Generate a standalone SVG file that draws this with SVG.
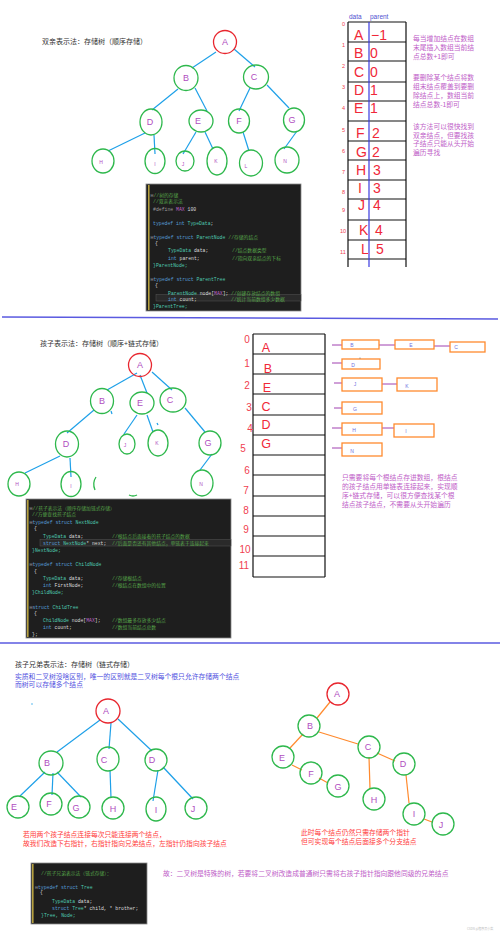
<svg xmlns="http://www.w3.org/2000/svg" width="500" height="934" viewBox="0 0 500 934">
<style>
.bg{fill:#ffffff}
.cn{fill:none;stroke:#2eb84c;stroke-width:1.3}
.cr{fill:none;stroke:#e8262e;stroke-width:1.3}
.lb{font-family:"Liberation Sans","Noto Sans",sans-serif;fill:#b04ec0;text-anchor:middle}
.big{font-size:9px}
.sm{font-size:5px}
.eb{stroke:#1ea0e8;stroke-width:1.2;fill:none}
.eo{stroke:#ff8a2e;stroke-width:1.2;fill:none}
.ep{stroke:#a040b0;stroke-width:1;fill:none}
.zh{font-family:"Noto Sans CJK SC","Noto Sans",sans-serif}
.title{font-size:7px;fill:#333333}
.note{font-size:6.8px;fill:#c060c8}
.red{font-size:6.8px;fill:#ff3c3c}
.blu{font-size:6.8px;fill:#5050e0}
.tl{stroke:#111111;stroke-width:1.2;fill:none}
.ridx{font-family:"Liberation Sans",sans-serif;fill:#f04050}
.rl{font-family:"Liberation Sans",sans-serif;fill:#f02838}
.box{fill:#ffffff;stroke:#ff8a2e;stroke-width:1.3}
.bl{font-family:"Liberation Sans",sans-serif;font-size:5px;fill:#7070e0;text-anchor:middle}
.code{font-family:"Liberation Mono","Noto Sans CJK SC",monospace;font-size:4.8px;fill:#dcdcdc}
.cb{fill:#1e1e1e;stroke:#8a8a8a;stroke-width:0.8}
.stripe{fill:#b5a040}
.c{fill:#57a64a}
.k{fill:#569cd6}
.t{fill:#4ec9b0}
.g{fill:#9b9b9b}
.div{stroke:#5a5ae0;stroke-width:1.3}
</style>
<rect class="bg" x="0" y="0" width="500" height="934"/>

<!-- dividers -->
<line class="div" x1="2" y1="317" x2="498" y2="319"/>
<line class="div" x1="0" y1="643" x2="500" y2="643"/>

<!-- ===== Section 1 ===== -->
<text class="zh title" x="42" y="43.5">双亲表示法：存储树（顺序存储）</text>

<g id="s1-edges">
<line class="eb" x1="216" y1="52" x2="192" y2="68"/>
<line class="eb" x1="234" y1="49" x2="255" y2="67"/>
<line class="eb" x1="178" y1="89" x2="152" y2="110"/>
<line class="eb" x1="195" y1="88" x2="207" y2="111"/>
<line class="eb" x1="250" y1="88" x2="239" y2="111"/>
<line class="eb" x1="267" y1="85" x2="289" y2="108"/>
<line class="eb" x1="145" y1="133" x2="108" y2="151"/>
<line class="eb" x1="154" y1="135" x2="155" y2="154"/>
<line class="eb" x1="196" y1="132" x2="183" y2="154"/>
<line class="eb" x1="205" y1="132" x2="213" y2="149"/>
<line class="eb" x1="243" y1="132" x2="249" y2="151"/>
<line class="eb" x1="297" y1="131" x2="284" y2="149"/>
</g>
<g id="s1-A"><ellipse class="cr" cx="225" cy="42" rx="11.5" ry="11.5"/><text class="lb big" x="225" y="45">A</text></g>
<g id="s1-B"><ellipse class="cn" cx="186" cy="78" rx="12" ry="12.5"/><text class="lb big" x="186" y="81">B</text></g>
<g id="s1-C"><ellipse class="cn" cx="256" cy="77" rx="12.5" ry="12"/><text class="lb big" x="254" y="80">C</text></g>
<g id="s1-D"><ellipse class="cn" cx="151" cy="122" rx="11" ry="13"/><text class="lb big" x="150" y="125">D</text></g>
<g id="s1-E"><ellipse class="cn" cx="201" cy="121" rx="12" ry="11"/><text class="lb big" x="198" y="124">E</text></g>
<g id="s1-F"><ellipse class="cn" cx="239" cy="121" rx="10.5" ry="12"/><text class="lb big" x="239" y="124">F</text></g>
<g id="s1-G"><ellipse class="cn" cx="294" cy="120" rx="10.5" ry="12"/><text class="lb big" x="292" y="123">G</text></g>
<g id="s1-H"><ellipse class="cn" cx="103" cy="161" rx="11" ry="12"/><text class="lb sm" x="101" y="164">H</text></g>
<g id="s1-I"><ellipse class="cn" cx="155" cy="161" rx="10" ry="12.5"/><text class="lb sm" x="155" y="166">I</text></g>
<g id="s1-J"><ellipse class="cn" cx="185" cy="161" rx="9" ry="10"/><text class="lb sm" x="183" y="166">J</text></g>
<g id="s1-K"><ellipse class="cn" cx="217" cy="161" rx="10" ry="14"/><text class="lb sm" x="216" y="163">K</text></g>
<g id="s1-L"><ellipse class="cn" cx="251" cy="163" rx="11.5" ry="13"/><text class="lb sm" x="246" y="168">L</text></g>
<g id="s1-N"><ellipse class="cn" cx="287" cy="160" rx="12" ry="13"/><text class="lb sm" x="285" y="163">N</text></g>

<!-- code block 1 -->
<g id="code1">
<rect class="cb" x="146" y="184" width="155" height="127"/>
<rect class="stripe" x="148" y="185" width="1.6" height="125"/>
<rect x="156" y="294.5" width="145" height="6.5" fill="#2a2a2a" stroke="#555555" stroke-width="0.5"/>
<text class="code" x="150.5" y="196.5"><tspan class="g">⊟</tspan><tspan class="c">//树的存储</tspan></text>
<text class="code c" x="153" y="202.5">//双亲表示法</text>
<text class="code" x="153" y="210.5"><tspan class="g">#define </tspan><tspan fill="#bd63c5">MAX</tspan> 100</text>
<text class="code" x="153" y="224.5"><tspan class="k">typedef int </tspan><tspan class="t">TypeData</tspan>;</text>
<text class="code" x="150.5" y="238.5"><tspan class="g">⊟</tspan><tspan class="k">typedef struct </tspan><tspan class="t">ParentNode </tspan><tspan class="c">//存储的结点</tspan></text>
<text class="code" x="155" y="244.5">{</text>
<text class="code" x="168" y="251.5"><tspan class="t">TypeData</tspan> data;</text>
<text class="code c" x="232" y="251.5">//结点数据类型</text>
<text class="code" x="168" y="259.5"><tspan class="k">int</tspan> parent;</text>
<text class="code c" x="232" y="259.5">//指向双亲结点的下标</text>
<text class="code t" x="153" y="266.5">}ParentNode;</text>
<text class="code" x="150.5" y="280.5"><tspan class="g">⊟</tspan><tspan class="k">typedef struct </tspan><tspan class="t">ParentTree</tspan></text>
<text class="code" x="155" y="286.5">{</text>
<text class="code" x="168" y="294.5"><tspan class="t">ParentNode</tspan> node[<tspan fill="#bd63c5">MAX</tspan>];</text>
<text class="code c" x="231" y="294.5">//创建存放结点的数组</text>
<text class="code" x="168" y="300.5"><tspan class="k">int</tspan> count;</text>
<text class="code c" x="231" y="300.5">//统计当前数组多少数据</text>
<text class="code t" x="153" y="307.5">}ParentTree;</text>
</g>

<!-- array 1 -->
<g id="array1">
<text x="349" y="19" font-family="Liberation Sans,sans-serif" font-size="6.5" fill="#5050d0">data</text>
<text x="370" y="19" font-family="Liberation Sans,sans-serif" font-size="6.5" fill="#5050d0">parent</text>
<path class="tl" d="M348 22H406M348 42H406M348 61H406M348 82H406M348 101H406M348 121H406M348 141H406M348 160H406M348 180H406M348 199H406M348 220H406M348 240H406M348 259H406M348 22V267M406 22V267"/>
<line x1="369" y1="22" x2="369" y2="267" stroke="#3a3ae0" stroke-width="1.2"/>
<g class="ridx" font-size="5.5">
<text x="342" y="26">0</text><text x="342" y="47">1</text><text x="342" y="68">2</text><text x="342" y="89">3</text>
<text x="342" y="110">4</text><text x="342" y="132">5</text><text x="342" y="153">6</text><text x="342" y="174">7</text>
<text x="342" y="194">8</text><text x="342" y="212">9</text><text x="340" y="233">10</text><text x="340" y="254">11</text>
</g>
<g class="rl" font-size="14">
<text x="354" y="40">A</text><text x="371" y="40">−1</text>
<text x="354" y="58">B</text><text x="370" y="58">0</text>
<text x="354" y="77">C</text><text x="370" y="77">0</text>
<text x="354" y="95">D</text><text x="370" y="95">1</text>
<text x="354" y="113">E</text><text x="370" y="113">1</text>
<text x="356" y="138">F</text><text x="372" y="138">2</text>
<text x="356" y="157">G</text><text x="372" y="157">2</text>
<text x="356" y="175">H</text><text x="373" y="175">3</text>
<text x="358" y="193">I</text><text x="373" y="193">3</text>
<text x="358" y="210">J</text><text x="373" y="210">4</text>
<text x="359" y="235">K</text><text x="375" y="235">4</text>
<text x="361" y="254">L</text><text x="376" y="254">5</text>
</g>
<g class="zh note">
<text x="413" y="40.5">每当增加结点在数组</text>
<text x="413" y="50">末尾插入数组当前结</text>
<text x="413" y="59">点总数+1即可</text>
<text x="413" y="79.5">要删除某个结点将数</text>
<text x="413" y="88.5">组末结点覆盖到要删</text>
<text x="413" y="97.5">除结点上，数组当前</text>
<text x="413" y="106.5">结点总数-1即可</text>
<text x="413" y="128.5">该方法可以很快找到</text>
<text x="413" y="137.5">双亲结点，但要找孩</text>
<text x="413" y="146">子结点只能从头开始</text>
<text x="413" y="154.5">遍历寻找</text>
</g>
</g>

<!-- ===== Section 2 ===== -->
<text class="zh title" x="40" y="345.5">孩子表示法：存储树（顺序+链式存储）</text>

<g id="s2-edges">
<line class="eb" x1="137" y1="373" x2="107" y2="390"/>
<line class="eb" x1="140" y1="375" x2="147" y2="393"/>
<line class="eb" x1="152" y1="372" x2="172" y2="390"/>
<line class="eb" x1="94" y1="410" x2="67" y2="433"/>
<line class="eb" x1="111" y1="411" x2="112" y2="414"/>
<line class="eb" x1="137" y1="415" x2="124" y2="434"/>
<line class="eb" x1="147" y1="415" x2="153" y2="432"/>
<line class="eb" x1="157" y1="423" x2="158" y2="425"/>
<line class="eb" x1="185" y1="408" x2="205" y2="432"/>
<line class="eb" x1="60" y1="456" x2="25" y2="473"/>
<line class="eb" x1="70" y1="458" x2="71" y2="477"/>
<line class="eb" x1="212" y1="454" x2="200" y2="470"/>
</g>
<g id="s2-A"><ellipse class="cr" cx="140" cy="365" rx="11.5" ry="11.5"/><text class="lb big" x="140" y="368">A</text></g>
<g id="s2-B"><ellipse class="cn" cx="102" cy="401" rx="11.5" ry="12.5"/><text class="lb big" x="102" y="404">B</text></g>
<g id="s2-E"><ellipse class="cn" cx="142" cy="403" rx="12" ry="11"/><text class="lb big" x="140" y="406">E</text></g>
<g id="s2-C"><ellipse class="cn" cx="173" cy="400" rx="13" ry="12"/><text class="lb big" x="170" y="403">C</text></g>
<g id="s2-D"><ellipse class="cn" cx="67" cy="444" rx="11.5" ry="13"/><text class="lb big" x="66" y="447">D</text></g>
<g id="s2-J"><ellipse class="cn" cx="127" cy="444" rx="8" ry="10"/><text class="lb sm" x="125" y="447">J</text></g>
<g id="s2-K"><ellipse class="cn" cx="158" cy="443" rx="10" ry="13"/><text class="lb sm" x="157" y="445">K</text></g>
<g id="s2-G"><ellipse class="cn" cx="210" cy="443" rx="11" ry="12"/><text class="lb big" x="208" y="446">G</text></g>
<g id="s2-H"><ellipse class="cn" cx="19" cy="484" rx="11" ry="12"/><text class="lb sm" x="17" y="486">H</text></g>
<g id="s2-I"><ellipse class="cn" cx="71" cy="484" rx="10" ry="12.5"/><text class="lb sm" x="71" y="488">I</text></g>
<g id="s2-N"><ellipse class="cn" cx="202" cy="483" rx="11" ry="13"/><text class="lb sm" x="201" y="486">N</text></g>
<path class="cn" d="M96 477Q92 483 95 490"/>
<path class="cn" d="M129 495Q133 497 137 495"/>

<!-- array 2 -->
<g id="array2">
<path class="tl" d="M253 334H325M253 354H325M253 374H325M253 394H325M253 415H325M253 435H325M253 455H325M253 475H325M253 496H325M253 516H325M253 536H325M253 556H325M253 577H325M253 334V577M325 334V577"/>
<g class="ridx" font-size="10" text-anchor="middle">
<text x="247" y="343">0</text><text x="247" y="367">1</text><text x="247" y="389">2</text><text x="249" y="411">3</text>
<text x="250" y="432">4</text><text x="243" y="452">5</text><text x="247" y="474">6</text><text x="246" y="494">7</text>
<text x="246" y="514">8</text><text x="246" y="533">9</text><text x="245" y="553">10</text><text x="244" y="569">11</text>
</g>
<g class="rl" font-size="12.5" text-anchor="middle">
<text x="266" y="352">A</text><text x="268" y="373">B</text><text x="267" y="392">E</text>
<text x="266" y="411">C</text><text x="266" y="429">D</text><text x="266" y="448">G</text>
</g>
</g>

<g id="lists">
<path class="ep" d="M332 345H342M379 345H395M434 346H450M332 363H342M334 383H342M382 384H397M334 408H342M332 428H342M382 428H394M332 448H342"/>
<g id="l-B"><rect class="box" x="342" y="340" width="37" height="9"/><text class="bl" x="352" y="347">B</text></g>
<g id="l-E"><rect class="box" x="395" y="340" width="39" height="9"/><text class="bl" x="411" y="347">E</text></g>
<g id="l-C"><rect class="box" x="450" y="342" width="35" height="10"/><text class="bl" x="456" y="349">C</text></g>
<g id="l-D"><rect class="box" x="342" y="359" width="38" height="10"/><text class="bl" x="353" y="367">D</text></g>
<circle cx="360" cy="358" r="0.5" fill="#555555"/>
<g id="l-J"><rect class="box" x="342" y="378" width="40" height="13"/><text class="bl" x="355" y="386">J</text></g>
<g id="l-K"><rect class="box" x="397" y="378" width="40" height="13"/><text class="bl" x="407" y="388">K</text></g>
<g id="l-G"><rect class="box" x="342" y="402" width="40" height="12"/><text class="bl" x="355" y="411">G</text></g>
<g id="l-H"><rect class="box" x="342" y="423" width="40" height="12"/><text class="bl" x="354" y="432">H</text></g>
<g id="l-I"><rect class="box" x="394" y="424" width="40" height="13"/><text class="bl" x="406" y="433">I</text></g>
<g id="l-N"><rect class="box" x="342" y="443" width="40" height="13"/><text class="bl" x="352" y="453">N</text></g>
</g>
<g class="zh note">
<text x="342" y="480">只需要将每个根结点存进数组，根结点</text>
<text x="342" y="489">的孩子结点用单链表连接起来，实现顺</text>
<text x="342" y="498">序+链式存储，可以很方便查找某个根</text>
<text x="342" y="507">结点孩子结点，不需要从头开始遍历</text>
</g>

<!-- code block 2 -->
<g id="code2">
<rect class="cb" x="26" y="499" width="205" height="139"/>
<rect class="stripe" x="27" y="500" width="1.6" height="137"/>
<rect x="40" y="539.5" width="191" height="6.5" fill="#2a2a2a" stroke="#555555" stroke-width="0.5"/>
<text class="code" x="29.5" y="509.5"><tspan class="g">⊟</tspan><tspan class="c">//孩子表示法（顺序存储加链式存储）</tspan></text>
<text class="code c" x="32" y="515.5">//方便查找孩子结点</text>
<text class="code" x="29.5" y="523.5"><tspan class="g">⊟</tspan><tspan class="k">typedef struct </tspan><tspan class="t">NextNode</tspan></text>
<text class="code" x="34" y="529.5">{</text>
<text class="code" x="43" y="537.5"><tspan class="t">TypeData</tspan> data;</text>
<text class="code c" x="112" y="537.5">//根结点后面接着的孩子结点的数据</text>
<text class="code" x="43" y="544.5"><tspan class="k">struct </tspan><tspan class="t">NextNode</tspan>* next;</text>
<text class="code c" x="112" y="544.5">//后面是否还有其他结点，单链表于连接起来</text>
<text class="code t" x="32" y="551.5">}NextNode;</text>
<text class="code" x="29.5" y="565.5"><tspan class="g">⊟</tspan><tspan class="k">typedef struct </tspan><tspan class="t">ChildNode</tspan></text>
<text class="code" x="34" y="572.5">{</text>
<text class="code" x="43" y="579.5"><tspan class="t">TypeData</tspan> data;</text>
<text class="code c" x="112" y="579.5">//存储根结点</text>
<text class="code" x="43" y="586.5"><tspan class="k">int</tspan> FirstNode;</text>
<text class="code c" x="112" y="586.5">//根结点在数组中的位置</text>
<text class="code t" x="32" y="593.5">}ChildNode;</text>
<text class="code" x="29.5" y="608.5"><tspan class="g">⊟</tspan><tspan class="k">struct </tspan><tspan class="t">ChildTree</tspan></text>
<text class="code" x="34" y="614.5">{</text>
<text class="code" x="43" y="621.5"><tspan class="t">ChildNode</tspan> node[<tspan fill="#bd63c5">MAX</tspan>];</text>
<text class="code c" x="112" y="621.5">//数组最多存放多少结点</text>
<text class="code" x="43" y="628.5"><tspan class="k">int</tspan> count;</text>
<text class="code c" x="112" y="628.5">//数组当前结点总数</text>
<text class="code" x="32" y="635.5">};</text>
</g>

<!-- ===== Section 3 ===== -->
<text class="zh title" x="15" y="666.5">孩子兄弟表示法：存储树（链式存储）</text>
<text class="zh blu" x="15" y="678.5">实质和二叉树没啥区别，唯一的区别就是二叉树每个根只允许存储两个结点</text>
<text class="zh blu" x="15" y="687">而树可以存储多个结点</text>
<circle cx="32" cy="704" r="0.7" fill="#1ea0e8"/>

<g id="s3-edges">
<line class="eb" x1="100" y1="720" x2="57" y2="752"/>
<line class="eb" x1="111" y1="723" x2="109" y2="749"/>
<line class="eb" x1="118" y1="719" x2="152" y2="751"/>
<line class="eb" x1="45" y1="772" x2="20" y2="796"/>
<line class="eb" x1="53" y1="773" x2="52" y2="795"/>
<line class="eb" x1="57" y1="772" x2="81" y2="797"/>
<line class="eb" x1="110" y1="770" x2="111" y2="798"/>
<line class="eb" x1="158" y1="770" x2="153" y2="801"/>
<line class="eb" x1="163" y1="767" x2="193" y2="799"/>
</g>
<g id="s3-A"><ellipse class="cr" cx="108" cy="711" rx="12" ry="12"/><text class="lb big" x="106" y="714">A</text></g>
<g id="s3-B"><ellipse class="cn" cx="51" cy="763" rx="12" ry="12"/><text class="lb big" x="47" y="766">B</text></g>
<g id="s3-C"><ellipse class="cn" cx="108" cy="759" rx="11" ry="12"/><text class="lb big" x="104" y="763">C</text></g>
<g id="s3-D"><ellipse class="cn" cx="156" cy="760" rx="11" ry="11"/><text class="lb big" x="152" y="763">D</text></g>
<g id="s3-E"><ellipse class="cn" cx="18" cy="807" rx="11" ry="11"/><text class="lb big" x="14" y="810">E</text></g>
<g id="s3-F"><ellipse class="cn" cx="51" cy="804" rx="11" ry="11"/><text class="lb big" x="49" y="807">F</text></g>
<g id="s3-G"><ellipse class="cn" cx="79" cy="807" rx="11" ry="11"/><text class="lb big" x="76" y="811">G</text></g>
<g id="s3-H"><ellipse class="cn" cx="113" cy="808" rx="11" ry="11"/><text class="lb big" x="113" y="812">H</text></g>
<g id="s3-I"><ellipse class="cn" cx="156" cy="809" rx="10" ry="12"/><text class="lb big" x="156" y="813">I</text></g>
<g id="s3-J"><ellipse class="cn" cx="196" cy="808" rx="11" ry="11"/><text class="lb big" x="193" y="812">J</text></g>
<text class="zh red" x="23" y="836.5">若用两个孩子结点连接每次只能连接两个结点，</text>
<text class="zh red" x="23" y="845.5">故我们改造下右指针，右指针指向兄弟结点，左指针仍指向孩子结点</text>

<g id="s4-edges">
<line class="eo" x1="330" y1="702" x2="317" y2="718"/>
<line class="eo" x1="319" y1="732" x2="358" y2="744"/>
<line class="eo" x1="303" y1="734" x2="290" y2="748"/>
<line class="eo" x1="292" y1="765" x2="302" y2="770"/>
<line class="eo" x1="319" y1="778" x2="328" y2="783"/>
<line class="eo" x1="377" y1="753" x2="395" y2="761"/>
<line class="eo" x1="369" y1="757" x2="370" y2="789"/>
<line class="eo" x1="406" y1="775" x2="409" y2="803"/>
<line class="eo" x1="424" y1="819" x2="432" y2="822"/>
</g>
<g id="s4-A"><ellipse class="cr" cx="338" cy="694" rx="11" ry="11"/><text class="lb big" x="337" y="697">A</text></g>
<g id="s4-B"><ellipse class="cn" cx="309" cy="726" rx="11" ry="11"/><text class="lb big" x="310" y="729">B</text></g>
<g id="s4-C"><ellipse class="cn" cx="369" cy="747" rx="11" ry="11"/><text class="lb big" x="368" y="750">C</text></g>
<g id="s4-D"><ellipse class="cn" cx="404" cy="764" rx="11" ry="11"/><text class="lb big" x="403" y="767">D</text></g>
<g id="s4-E"><ellipse class="cn" cx="283" cy="757" rx="11" ry="11"/><text class="lb big" x="282" y="761">E</text></g>
<g id="s4-F"><ellipse class="cn" cx="311" cy="773" rx="11" ry="11"/><text class="lb big" x="311" y="777">F</text></g>
<g id="s4-G"><ellipse class="cn" cx="338" cy="786" rx="11" ry="11"/><text class="lb big" x="338" y="790">G</text></g>
<g id="s4-H"><ellipse class="cn" cx="374" cy="799" rx="11" ry="11"/><text class="lb big" x="374" y="803">H</text></g>
<g id="s4-I"><ellipse class="cn" cx="414" cy="814" rx="11" ry="11"/><text class="lb big" x="414" y="817">I</text></g>
<g id="s4-J"><ellipse class="cn" cx="443" cy="824" rx="11" ry="11"/><text class="lb big" x="441" y="828">J</text></g>
<text class="zh red" x="301" y="834.5">此时每个结点仍然只需存储两个指针</text>
<text class="zh red" x="301" y="843.5">但可实现每个结点后面接多个分支结点</text>

<!-- code block 3 -->
<g id="code3">
<rect class="cb" x="31" y="863" width="116" height="61"/>
<rect class="stripe" x="32" y="864" width="1.6" height="59"/>
<text class="code c" x="41" y="874.5">//孩子兄弟表示法（链式存储）：</text>
<text class="code" x="35" y="888.5"><tspan class="g">⊟</tspan><tspan class="k">typedef struct </tspan><tspan class="t">Tree</tspan></text>
<text class="code" x="40" y="893.5">{</text>
<text class="code" x="52" y="902.5"><tspan class="t">TypeData</tspan> data;</text>
<text class="code" x="52" y="909.5"><tspan class="k">struct </tspan><tspan class="t">Tree</tspan>* child, * brother;</text>
<text class="code t" x="41" y="916.5">}Tree, Node;</text>
</g>
<text class="zh note" x="163" y="875.5">故：二叉树是特殊的树，若要将二叉树改造成普通树只需将右孩子指针指向跟他同级的兄弟结点</text>
<text class="zh" x="467" y="930" font-size="3" fill="#bbbbbb">CSDN @程序员小菜</text>
</svg>
